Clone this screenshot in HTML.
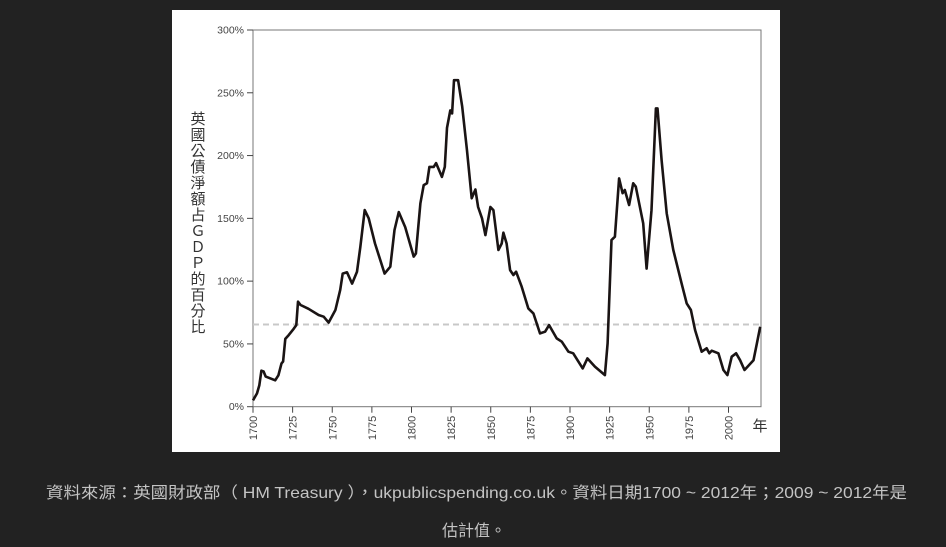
<!DOCTYPE html>
<html><head><meta charset="utf-8"><style>
body{margin:0;background:#222;width:946px;height:547px;overflow:hidden;font-family:"Liberation Sans","Noto Sans CJK TC",sans-serif}
#box{position:absolute;left:172px;top:10px;width:608px;height:442px;background:#fff}
.cap{position:absolute;white-space:nowrap;color:#c4c4c4;font-size:16px}
</style></head><body>
<div id="box"></div>
<svg id="chart" width="946" height="547" style="position:absolute;left:0;top:0"></svg>
<div class="cap" id="cap1" style="top:479px;left:46px">資料來源：英國財政部（ HM Treasury ），ukpublicspending.co.uk。資料日期1700 ~ 2012年；2009 ~ 2012年是</div>
<div class="cap" style="top:517px;left:442px">估計值。</div>
<script>
const years=[1700,1702.5,1704,1705.3,1706.7,1708,1714,1716,1718,1719,1720.4,1722.5,1725.7,1727.3,1728.4,1730,1735,1741.4,1744.6,1747.7,1752,1755,1756.6,1759.3,1762.5,1765.6,1767.7,1770.5,1773,1777,1783,1786.6,1789.3,1792,1796,1801.4,1802.8,1805.6,1807.7,1809.8,1811.3,1814,1815.5,1819.2,1821,1822.4,1824.5,1825.6,1826.8,1829.4,1832,1835,1838,1840.3,1842,1844.5,1846.6,1849.8,1851.7,1854.8,1856.9,1858,1860,1862.2,1864.3,1866,1869.5,1873.7,1876.9,1881.1,1884.3,1886.8,1891.6,1894.8,1899,1902,1908,1911,1915.7,1922,1923.7,1926.2,1928.3,1931,1933.2,1934.6,1937.3,1939.9,1941.5,1946.2,1948.3,1951.4,1954.2,1955.2,1957.8,1961,1965.2,1970.4,1973.6,1976.3,1978.9,1983.1,1986.2,1987.9,1989.4,1993.6,1996.8,1999.3,2002,2004.8,2007.3,2010.1,2015.8,2017.9,2020];
const debtPct=[5,10.6,17,28.7,28,24,21,25,34.5,36,54,57,62,65,83.6,81,78,73,71.7,67,77,93,106,107,98,107.5,127,156.6,150,130,106,111.5,140.7,155,143,119.5,122,162,176.5,178,191,191,194,183,191,222,236,233.6,260,260,239,204,166,173,159,150,136.7,159,156.6,124.8,130,138.6,130,108.8,104.9,107.5,95.6,78.3,74.3,58.4,59.7,65,54.4,51.8,43.8,42.5,30.5,38.5,31.9,25.2,50.4,132.7,135.4,181.8,170,172.6,160.6,177.9,175.2,146,110,156.6,237.6,237.6,196.4,154,124.8,98.2,82.3,77,61,43.8,46.5,42.5,44.6,42.5,29.2,25.2,39.8,42.5,37,29.2,37,50.4,63.7];
const avgLine=[65.5];
const yTicks=[0,50,100,150,200,250,300];
const xTicks=[1700,1725,1750,1775,1800,1825,1850,1875,1900,1925,1950,1975,2000];
const NS='http://www.w3.org/2000/svg',svg=document.getElementById('chart');
const L=253,R=761,T=30,B=406.7;
const x=v=>L+(v-1700)*1.585, y=v=>B-(v/300)*(B-T);
function mk(t,a){const e=document.createElementNS(NS,t);for(const k in a)e.setAttribute(k,a[k]);svg.appendChild(e);return e;}
const frame=mk('rect',{x:L,y:T,width:R-L,height:B-T,fill:'none',stroke:'#777','stroke-width':1});


yTicks.forEach(v=>{
 const t=mk('line',{x1:L-6,x2:L,y1:y(v),y2:y(v),stroke:'#444'});
 
 
 const l=mk('text',{x:L-9,y:y(v)+3.5,'text-anchor':'end','font-size':10.5,fill:'#444'});
 l.textContent=v+'%';
 
 
});
xTicks.forEach(v=>{
 const t=mk('line',{x1:x(v),x2:x(v),y1:B,y2:B+6,stroke:'#444'});
 
 
 const l=mk('text',{x:0,y:0,'text-anchor':'end','font-size':11,fill:'#444',transform:`translate(${x(v)+4},${B+9}) rotate(-90)`});
 l.textContent=v;
 
 
});
const d=mk('line',{x1:L,x2:R,y1:y(avgLine[0]),y2:y(avgLine[0]),stroke:'#c8c8c8','stroke-width':2,'stroke-dasharray':'6,4'});


const p=mk('path',{d:years.map((v,i)=>(i?'L':'M')+x(v).toFixed(1)+','+y(debtPct[i]).toFixed(1)).join(''),fill:'none',stroke:'#1a1414','stroke-width':2.6,'stroke-linejoin':'round'});


const yl='英國公債淨額占ＧＤＰ的百分比';
[...yl].forEach((c,i)=>{
 const e=mk('text',{x:198,y:124+i*16,'text-anchor':'middle','font-size':15,fill:'#333'});
 e.textContent=c;
 
 
});
const yr=mk('text',{x:760,y:431,'text-anchor':'middle','font-size':15,fill:'#333'});
yr.textContent='年';


const c1=document.getElementById('cap1');
const w=c1.getBoundingClientRect().width;
c1.style.transformOrigin='0 0';
c1.style.transform='scaleX('+(861/w)+')';
</script>
</body></html>
